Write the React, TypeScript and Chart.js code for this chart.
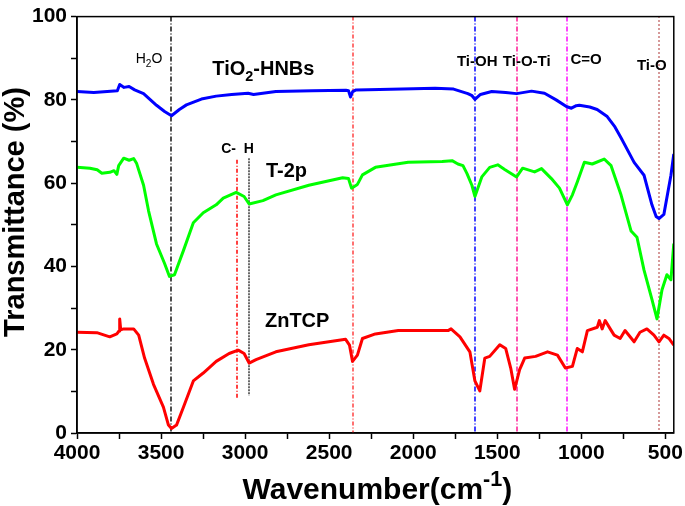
import React, { useEffect, useRef } from 'react';
import { Chart, registerables } from 'chart.js';

Chart.register(...registerables);

const FONT = "'Liberation Sans', Arial, Helvetica, sans-serif";

// TiO2-HNBs (blue)
const blueWn = [4000, 3900, 3800, 3760, 3746, 3720, 3690, 3657, 3604, 3527, 3479, 3438, 3391, 3349, 3260, 3172, 3080, 2982, 2950, 2817, 2600, 2400, 2385, 2373, 2360, 2340, 2200, 2000, 1870, 1760, 1675, 1650, 1633, 1600, 1533, 1450, 1385, 1296, 1219, 1150, 1089, 1059, 1030, 1012, 950, 906, 846, 800, 764, 686, 627, 580, 555, 538, 509, 467, 450];
const blueT = [82, 81.8, 82.1, 82.2, 83.7, 83, 83.2, 82.4, 81.5, 78.7, 77.2, 76.2, 77.7, 78.8, 80.2, 80.9, 81.3, 81.6, 81.3, 82, 82.2, 82.3, 82.2, 80.7, 82, 82.4, 82.5, 82.7, 82.8, 82.6, 81.5, 81, 80.1, 81.3, 82, 81.8, 81.5, 82.1, 81.6, 80, 78.4, 78, 78.6, 78.7, 78.3, 77.7, 76, 73.5, 70.9, 65, 61.9, 54.8, 52, 51.5, 52.5, 61.9, 67];

// T-2p (green)
const greenWn = [4000, 3923, 3880, 3852, 3805, 3780, 3763, 3752, 3722, 3690, 3663, 3645, 3604, 3574, 3527, 3479, 3450, 3420, 3367, 3308, 3249, 3172, 3130, 3053, 3006, 2976, 2894, 2817, 2621, 2420, 2385, 2367, 2332, 2302, 2225, 2030, 1828, 1769, 1734, 1704, 1680, 1651, 1633, 1592, 1545, 1497, 1456, 1385, 1349, 1278, 1237, 1178, 1130, 1083, 1053, 1024, 982, 935, 864, 823, 764, 704, 669, 627, 580, 550, 520, 491, 467, 450];
const greenT = [63.8, 63.6, 63.2, 62.4, 62.6, 63, 62.1, 64.2, 66, 65.5, 65.9, 64.7, 59.5, 53.3, 45.4, 40.7, 37.6, 38, 43.8, 50.5, 52.9, 54.8, 56.4, 57.8, 56.8, 55, 55.8, 57.2, 59.5, 61.3, 61.1, 58.8, 59.7, 62, 63.8, 65, 65.2, 65.4, 64.6, 64.2, 62.3, 59.5, 56.8, 61.5, 63.8, 64.4, 63.3, 61.5, 63.6, 62.7, 63.5, 61.1, 58.8, 54.8, 57.2, 60.3, 65, 64.6, 65.8, 64.2, 57.2, 48.5, 47, 39.1, 32.1, 27.4, 34.4, 38, 36.8, 45.5];

// ZnTCP (red)
const redWn = [4000, 3882, 3805, 3763, 3750, 3746, 3740, 3722, 3663, 3633, 3598, 3545, 3486, 3456, 3438, 3408, 3367, 3308, 3249, 3172, 3095, 3041, 3006, 2976, 2935, 2817, 2621, 2402, 2379, 2361, 2332, 2302, 2225, 2089, 1793, 1775, 1722, 1663, 1633, 1604, 1574, 1545, 1485, 1450, 1420, 1397, 1367, 1337, 1272, 1201, 1142, 1095, 1053, 1024, 994, 964, 905, 893, 876, 858, 828, 805, 769, 740, 686, 651, 610, 568, 538, 509, 479, 450];
const redT = [24.2, 24.1, 23.1, 23.8, 24.5, 27.4, 24.8, 25, 25, 23.5, 18, 11.7, 6.2, 1.9, 1.1, 1.9, 6.2, 12.5, 14.4, 17.2, 19.1, 19.9, 19.1, 16.8, 17.6, 19.5, 21.2, 22.5, 21.1, 17.2, 18.7, 22.7, 23.8, 24.6, 24.6, 25, 23.1, 19.5, 12.5, 10.1, 18, 18.4, 21.2, 20.3, 15.6, 10.5, 15.2, 18, 18.4, 19.5, 18.7, 15.6, 16, 20.3, 19.5, 24.6, 25.4, 27, 25, 27, 25, 23.5, 22.7, 24.6, 21.9, 24.2, 25, 23.5, 21.9, 23.5, 22.7, 21.1];

// Axis ticks
const xTickValues = [4000, 3750, 3500, 3250, 3000, 2750, 2500, 2250, 2000, 1750, 1500, 1250, 1000, 750, 500];
const yTickValues = [0, 10, 20, 30, 40, 50, 60, 70, 80, 90, 100];

// Band marker lines
const markerWn = [3440, 3047, 2976, 2361, 1633, 1385, 1083, 538];
const markerTop = [100, 65.6, 66, 100, 100, 100, 100, 100];
const markerBottom = [0, 8, 9, 0, 0, 0, 0, 0];
const markerColors = ['#000000', '#ff0000', '#444444', '#ff4040', '#0000ff', '#ff1493', '#ff44ff', '#990000'];
const markerWidths = [1.4, 1.5, 1.6, 1.5, 1.5, 1.5, 2, 1.6];
const markerDash = [[5, 2, 1, 2], [4, 2, 1, 2], [2, 1], [4, 2, 1, 2], [5, 2, 1, 2], [5, 2, 1, 2], [5, 2, 1, 2], [1, 3]];

// Annotation texts (segments: [text, mode])
const labelSegs: [string, string][][] = [
  [['H', ''], ['2', 'sub'], ['O', '']],
  [['TiO', ''], ['2', 'sub'], ['-HNBs', '']],
  [['C-  H', '']],
  [['T-2p', '']],
  [['ZnTCP', '']],
  [['Ti-OH', '']],
  [['Ti-O-Ti', '']],
  [['C=O', '']],
  [['Ti-O', '']],
];
const labelWn = [3651, 3195, 3142, 2876, 2882, 1740, 1467, 1065, 669];
const labelT = [88.9, 85.9, 67.3, 61.4, 25.4, 88.2, 88.2, 88.7, 87.1];
const labelSize = [14, 20, 14, 20, 20, 15, 15, 15, 15];
const labelBold = [false, true, true, true, true, true, true, true, true];

const yTitle = 'Transmittance (%)';
const xTitleSegs: [string, string][] = [['Wavenumber(cm', ''], ['-1', 'sup'], [')', '']];

function drawSegs(ctx: CanvasRenderingContext2D, segs: [string, string][], x: number, y: number, size: number, bold: boolean, align: 'left' | 'center') {
  const w = bold ? 'bold ' : '';
  const measure = (s: [string, string]) => {
    const sz = s[1] ? size * 0.72 : size;
    ctx.font = `${w}${sz}px ${FONT}`;
    return ctx.measureText(s[0]).width;
  };
  let total = 0;
  segs.forEach((s) => (total += measure(s)));
  let cx = align === 'center' ? x - total / 2 : x;
  ctx.textBaseline = 'alphabetic';
  ctx.textAlign = 'left';
  segs.forEach((s) => {
    const sz = s[1] ? size * 0.72 : size;
    ctx.font = `${w}${sz}px ${FONT}`;
    let dy = 0;
    if (s[1] === 'sub') dy = size * 0.3;
    if (s[1] === 'sup') dy = -size * 0.42;
    ctx.fillText(s[0], cx, y + dy);
    cx += ctx.measureText(s[0]).width;
  });
}

export default function App() {
  const ref = useRef<HTMLCanvasElement>(null);
  useEffect(() => {
    document.body.style.margin = '0';
    const canvas = ref.current!;
    const toPts = (w: number[], t: number[]) => w.map((x, i) => ({ x, y: t[i] }));

    const overlay = {
      id: 'overlay',
      beforeDatasetsDraw(chart: any) {
        const { ctx, chartArea: a, scales } = chart;
        ctx.save();
        ctx.beginPath();
        ctx.rect(a.left, a.top, a.right - a.left, a.bottom - a.top);
        ctx.clip();
        markerWn.forEach((wn, i) => {
          const px = Math.round(scales.x.getPixelForValue(wn));
          ctx.beginPath();
          ctx.strokeStyle = markerColors[i];
          ctx.lineWidth = markerWidths[i];
          ctx.setLineDash(markerDash[i]);
          ctx.moveTo(px, scales.y.getPixelForValue(markerTop[i]));
          ctx.lineTo(px, scales.y.getPixelForValue(markerBottom[i]));
          ctx.stroke();
        });
        ctx.restore();
      },
      afterDatasetsDraw(chart: any) {
        const { ctx, scales } = chart;
        ctx.save();
        ctx.fillStyle = '#000';
        labelSegs.forEach((segs, i) => {
          drawSegs(ctx, segs, scales.x.getPixelForValue(labelWn[i]), scales.y.getPixelForValue(labelT[i]), labelSize[i], labelBold[i], 'left');
        });
        ctx.restore();
      },
      afterDraw(chart: any) {
        const { ctx, chartArea: a } = chart;
        ctx.save();
        ctx.strokeStyle = '#000';
        ctx.lineWidth = 1.5;
        ctx.setLineDash([]);
        ctx.strokeRect(a.left, a.top, a.right - a.left, a.bottom - a.top);
        ctx.fillStyle = '#000';
        // x title
        drawSegs(ctx, xTitleSegs, (a.left + a.right) / 2 + 2, 499, 30, true, 'center');
        // y title
        ctx.translate(24, 212);
        ctx.rotate(-Math.PI / 2);
        ctx.font = `bold 29px ${FONT}`;
        ctx.textAlign = 'center';
        ctx.textBaseline = 'alphabetic';
        ctx.fillText(yTitle, 0, 0);
        ctx.restore();
      },
    };

    const tickFont = { family: FONT, size: 21, weight: 'bold' as const };

    const chart = new Chart(canvas, {
      type: 'line',
      data: {
        datasets: [
          { label: 'TiO2-HNBs', data: toPts(blueWn, blueT), borderColor: '#0000ff', borderWidth: 3, pointRadius: 0, tension: 0, fill: false, borderJoinStyle: 'round' },
          { label: 'T-2p', data: toPts(greenWn, greenT), borderColor: '#00ff00', borderWidth: 3, pointRadius: 0, tension: 0, fill: false, borderJoinStyle: 'round' },
          { label: 'ZnTCP', data: toPts(redWn, redT), borderColor: '#ff0000', borderWidth: 3, pointRadius: 0, tension: 0, fill: false, borderJoinStyle: 'round' },
        ],
      },
      options: {
        responsive: false,
        animation: false,
        events: [],
        layout: { padding: { left: 0, top: 8, right: 7, bottom: 0 } },
        plugins: { legend: { display: false }, tooltip: { enabled: false } },
        scales: {
          x: {
            type: 'linear',
            reverse: true,
            min: 450,
            max: 4000,
            afterBuildTicks: (s: any) => {
              s.ticks = xTickValues.map((v) => ({ value: v }));
            },
            afterFit: (s: any) => {
              s.height = 73;
            },
            ticks: {
              autoSkip: false,
              maxRotation: 0,
              color: '#000',
              font: tickFont,
              padding: 2,
              callback: (v: any) => (Number(v) % 500 === 0 ? String(v) : ''),
            },
            grid: { drawOnChartArea: false, drawTicks: true, tickLength: 6, tickColor: '#000', tickWidth: 1.5 },
            border: { display: true, color: '#000', width: 1.5 },
          },
          y: {
            type: 'linear',
            min: 0,
            max: 100,
            afterBuildTicks: (s: any) => {
              s.ticks = yTickValues.map((v) => ({ value: v }));
            },
            afterFit: (s: any) => {
              s.width = 77;
            },
            ticks: {
              autoSkip: false,
              color: '#000',
              font: tickFont,
              padding: 4,
              callback: (v: any) => (Number(v) % 20 === 0 ? String(v) : ''),
            },
            grid: { drawOnChartArea: false, drawTicks: true, tickLength: 6, tickColor: '#000', tickWidth: 1.5 },
            border: { display: true, color: '#000', width: 1.5 },
          },
        },
      },
      plugins: [overlay],
    });
    return () => chart.destroy();
  }, []);

  return (
    <div style={{ position: 'absolute', left: 0, top: 0, width: 685, height: 506, background: '#fff' }}>
      <canvas ref={ref} width={685} height={506} style={{ display: 'block' }} />
    </div>
  );
}
